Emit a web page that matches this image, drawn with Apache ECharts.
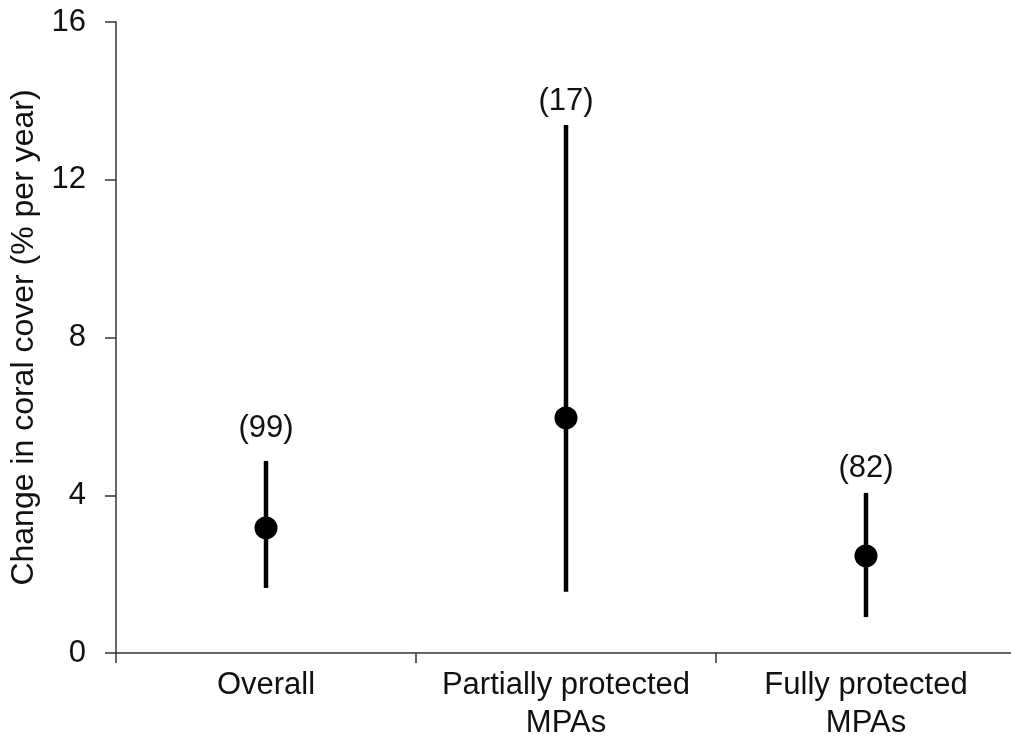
<!DOCTYPE html>
<html>
<head>
<meta charset="utf-8">
<script src="https://cdn.jsdelivr.net/npm/echarts@6/dist/echarts.min.js"></script>
<style>
  html, body { margin: 0; padding: 0; background: #fff; }
  #chart { width: 1011px; height: 738px; }
</style>
</head>
<body>
<div id="chart"></div>
<script>
// Annual change in coral cover (% per year): mean with interval, and sample size per group
const categories = ['Overall', 'Partially protected\nMPAs', 'Fully protected\nMPAs'];
const means = [3.17, 5.96, 2.46];
const lower = [1.65, 1.55, 0.91];
const upper = [4.87, 13.39, 4.06];
const sampleSizes = [99, 17, 82];
const yTicks = [0, 4, 8, 12, 16];

const FONT = 'Liberation Sans, Arial, sans-serif';
const FS = 31;

const chart = echarts.init(document.getElementById('chart'), null, { renderer: 'canvas' });

const barData = categories.map((c, i) => [i, lower[i], upper[i], sampleSizes[i]]);
// pixel distance from the top of each interval to its sample-size label
const nLabelGap = [32, 23, 24];

chart.setOption({
  animation: false,
  backgroundColor: '#ffffff',
  grid: { left: 116, top: 22, width: 900, height: 631, containLabel: false, outerBoundsMode: 'none' },
  xAxis: {
    type: 'category',
    data: categories,
    boundaryGap: true,
    axisLine: { lineStyle: { color: '#333', width: 1.5 } },
    axisTick: { show: true, alignWithLabel: false, length: 10, lineStyle: { color: '#333', width: 1.5 } },
    axisLabel: { margin: 13, color: '#111', fontFamily: FONT, fontSize: FS, lineHeight: 38, interval: 0 },
    splitLine: { show: false }
  },
  yAxis: {
    type: 'value',
    min: yTicks[0],
    max: yTicks[yTicks.length - 1],
    interval: yTicks[1] - yTicks[0],
    name: 'Change in coral cover (% per year)',
    nameLocation: 'middle',
    nameGap: 72,
    nameTextStyle: { color: '#111', fontFamily: FONT, fontSize: 32 },
    axisLine: { show: true, lineStyle: { color: '#333', width: 1.5 } },
    axisTick: { show: true, length: 11, lineStyle: { color: '#333', width: 1.5 } },
    axisLabel: { margin: 30, color: '#111', fontFamily: FONT, fontSize: FS },
    splitLine: { show: false }
  },
  series: [
    {
      type: 'custom',
      data: barData,
      encode: { x: 0, y: [1, 2] },
      renderItem: function (params, api) {
        const x = api.value(0);
        const lo = api.coord([x, api.value(1)]);
        const hi = api.coord([x, api.value(2)]);
        return {
          type: 'group',
          children: [
            {
              type: 'line',
              shape: { x1: lo[0], y1: lo[1], x2: hi[0], y2: hi[1] },
              style: { stroke: '#000', lineWidth: 4.5 }
            },
            {
              type: 'text',
              x: hi[0],
              y: hi[1] - nLabelGap[params.dataIndex],
              style: {
                text: '(' + api.value(3) + ')',
                fill: '#111',
                font: FS + 'px ' + FONT,
                align: 'center',
                verticalAlign: 'middle'
              }
            }
          ]
        };
      },
      z: 2
    },
    {
      type: 'scatter',
      data: means,
      symbol: 'circle',
      symbolSize: 23,
      itemStyle: { color: '#000', opacity: 1 },
      z: 3
    }
  ]
});
</script>
</body>
</html>
